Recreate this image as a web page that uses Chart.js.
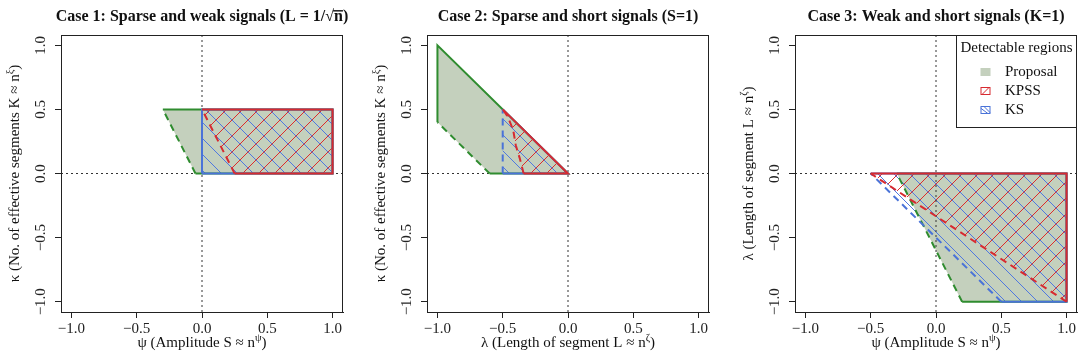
<!DOCTYPE html>
<html><head><meta charset="utf-8">
<script src="https://cdn.jsdelivr.net/npm/chart.js@4.4.1/dist/chart.umd.min.js"></script>
<style>
html,body{margin:0;padding:0;background:#fff;}
#wrap{position:relative;width:1083px;height:361px;overflow:hidden;}
canvas{position:absolute;left:0;top:0;}
</style></head><body>
<div id="wrap">
<canvas id="c1" width="1083" height="361"></canvas>
<canvas id="c2" width="1083" height="361"></canvas>
<canvas id="c3" width="1083" height="361"></canvas>
</div>
<script>
// ---------- data ----------
const axisTicks = [-1, -0.5, 0, 0.5, 1];
const tickLabels = ['\u22121.0', '\u22120.5', '0.0', '0.5', '1.0'];
const axisRange = [-1.08, 1.08];
const legendTitle = 'Detectable regions';
const legendLabels = ['Proposal', 'KPSS', 'KS'];

// Case 1 (x = psi, y = kappa)
const c1ProposalRegion = [[-0.3, 0.5], [1, 0.5], [1, 0], [-0.05, 0]];
const c1ProposalIncluded = [[[-0.3, 0.5], [1, 0.5], [1, 0], [-0.05, 0]]];
const c1ProposalExcluded = [[[-0.05, 0], [-0.3, 0.5]]];
const c1KSRegion = [[0, 0], [0, 0.5], [1, 0.5], [1, 0]];
const c1KSIncluded = [[[0, 0], [0, 0.5], [1, 0.5], [1, 0], [0, 0]]];
const c1KSExcluded = [];
const c1KPSSRegion = [[0, 0.5], [1, 0.5], [1, 0], [0.25, 0]];
const c1KPSSIncluded = [[[0, 0.5], [1, 0.5], [1, 0], [0.25, 0]]];
const c1KPSSExcluded = [[[0.25, 0], [0.12, 0.26], [0, 0.5]]];

// Case 2 (x = lambda, y = kappa)
const c2ProposalRegion = [[-1, 1], [0, 0], [-0.6, 0], [-1, 0.4]];
const c2ProposalIncluded = [[[-1, 0.4], [-1, 1], [0, 0], [-0.6, 0]]];
const c2ProposalExcluded = [[[-0.6, 0], [-1, 0.4]]];
const c2KSRegion = [[-0.5, 0.5], [0, 0], [-0.5, 0]];
const c2KSIncluded = [[[-0.5, 0.5], [0, 0], [-0.5, 0]]];
const c2KSExcluded = [[[-0.5, 0], [-0.5, 0.5]]];
const c2KPSSCurve = [[-0.34, 0], [-0.35, 0.04], [-0.37, 0.12], [-0.40, 0.22], [-0.42, 0.34], [-0.46, 0.44], [-0.5, 0.5]];
const c2KPSSRegion = [[-0.5, 0.5], [0, 0]].concat(c2KPSSCurve);
const c2KPSSIncluded = [[[-0.5, 0.5], [0, 0], [-0.34, 0]]];
const c2KPSSExcluded = [c2KPSSCurve];

// Case 3 (x = psi, y = lambda)
const c3ProposalRegion = [[-0.3, 0], [1, 0], [1, -1], [0.2, -1]];
const c3ProposalIncluded = [[[-0.3, 0], [1, 0], [1, -1], [0.2, -1]]];
const c3ProposalExcluded = [[[0.2, -1], [-0.3, 0]]];
const c3KSRegion = [[-0.5, 0], [1, 0], [1, -1], [0.5, -1]];
const c3KSIncluded = [[[-0.5, 0], [1, 0], [1, -1], [0.5, -1]]];
const c3KSExcluded = [[[0.5, -1], [-0.5, 0]]];
const c3KPSSRegion = [[-0.5, 0], [1, 0], [1, -1]];
const c3KPSSIncluded = [[[-0.5, 0], [1, 0], [1, -1]]];
const c3KPSSExcluded = [[[1, -1], [-0.5, 0]]];

// ---------- styling ----------
const FONT = "'Liberation Serif','Times New Roman',serif";
const COL = {
  green: '#2f8c2f', red: '#d72a30', blue: '#4a73d8',
  fill: 'rgb(196,208,189)', hatchRed: '#dc2c2c', hatchBlue: '#4f78e0',
  axis: '#222', text: '#111'
};

function makeHatch(color, dir, size) {
  const c = document.createElement('canvas');
  c.width = size; c.height = size;
  const g = c.getContext('2d');
  g.strokeStyle = color; g.lineWidth = 1;
  g.beginPath();
  if (dir > 0) {
    g.moveTo(-1, size + 1); g.lineTo(size + 1, -1);
    g.moveTo(-1, 1); g.lineTo(1, -1);
    g.moveTo(size - 1, size + 1); g.lineTo(size + 1, size - 1);
  } else {
    g.moveTo(-1, -1); g.lineTo(size + 1, size + 1);
    g.moveTo(size - 1, -1); g.lineTo(size + 1, 1);
    g.moveTo(-1, size - 1); g.lineTo(1, size + 1);
  }
  g.stroke();
  return g.createPattern(c, 'repeat');
}
const redHatch = makeHatch(COL.hatchRed, 1, 16);
const blueHatch = makeHatch(COL.hatchBlue, -1, 16);

function pts(arr) { return arr.map(([x, y]) => ({x, y})); }
function regionDs(arr, fillStyle, order) {
  return {data: pts(arr), regionFill: fillStyle, showLine: false, pointRadius: 0, pointHoverRadius: 0, order};
}
function lineDs(arr, color, dashed, order, width) {
  return {data: pts(arr), showLine: true, borderColor: color, borderWidth: width || 2,
    borderDash: dashed ? [7, 5] : [], pointRadius: 0, pointHoverRadius: 0, fill: false, tension: 0, order};
}
function edges(list, color, dashed, order) { return list.map(a => lineDs(a, color, dashed, order)); }

function buildDatasets(P, K, S) {
  const ds = [];
  ds.push(regionDs(P.region, COL.fill, 100));
  ds.push(regionDs(S.region, blueHatch, 99));
  ds.push(regionDs(K.region, redHatch, 98));
  const zl = {showLine: true, borderColor: '#333', borderWidth: 1, borderDash: [2, 3], pointRadius: 0, fill: false, order: 50};
  ds.push(Object.assign({data: [{x: 0, y: axisRange[0]}, {x: 0, y: axisRange[1]}]}, zl));
  ds.push(Object.assign({data: [{x: axisRange[0], y: 0}, {x: axisRange[1], y: 0}]}, zl));
  ds.push(...edges(P.inc, COL.green, false, 30), ...edges(P.exc, COL.green, true, 30));
  ds.push(...edges(S.inc, COL.blue, false, 20), ...edges(S.exc, COL.blue, true, 20));
  ds.push(...edges(K.inc, COL.red, false, 10), ...edges(K.exc, COL.red, true, 10));
  return ds;
}

const regionFillPlugin = {
  id: 'regionFill',
  beforeDatasetDraw(chart, args) {
    const ds = chart.data.datasets[args.index];
    if (!ds.regionFill) return;
    const ctx = chart.ctx, a = chart.chartArea;
    ctx.save();
    ctx.beginPath(); ctx.rect(a.left, a.top, a.right - a.left, a.bottom - a.top); ctx.clip();
    ctx.beginPath();
    args.meta.data.forEach((p, i) => i ? ctx.lineTo(p.x, p.y) : ctx.moveTo(p.x, p.y));
    ctx.closePath();
    ctx.fillStyle = ds.regionFill;
    ctx.fill();
    ctx.restore();
  }
};

function drawRich(ctx, runs, cx, cy, rot, size, bold) {
  ctx.save();
  ctx.translate(cx, cy); ctx.rotate(rot);
  const f = s => (bold ? 'bold ' : '') + s + 'px ' + FONT;
  let w = 0;
  const widths = runs.map(r => { ctx.font = f(r.sup ? size * 0.7 : size); const m = ctx.measureText(r.t).width; w += m; return m; });
  let x = -w / 2;
  ctx.textBaseline = 'middle'; ctx.textAlign = 'left'; ctx.fillStyle = COL.text;
  runs.forEach((r, i) => {
    ctx.font = f(r.sup ? size * 0.7 : size);
    ctx.fillText(r.t, x, r.sup ? -size * 0.33 : 0);
    if (r.over) ctx.fillRect(x - 1, -size * 0.43, widths[i] + 1, bold ? 1.4 : 1);
    x += widths[i];
  });
  ctx.restore();
}

function textPlugin(title, xTitle, yTitle) {
  return {
    id: 'texts',
    afterDraw(chart) {
      const ctx = chart.ctx, a = chart.chartArea;
      ctx.save();
      ctx.strokeStyle = COL.axis; ctx.lineWidth = 1;
      ctx.strokeRect(Math.round(a.left) + 0.5, Math.round(a.top) + 0.5, Math.round(a.right - a.left) - 1, Math.round(a.bottom - a.top));
      ctx.restore();
      const cx = (a.left + a.right) / 2, cy = (a.top + a.bottom) / 2;
      drawRich(ctx, title, cx, 17, 0, 16, true);
      drawRich(ctx, xTitle, cx, 343, 0, 15, false);
      drawRich(ctx, yTitle, a.left - 46, cy, -Math.PI / 2, 15, false);
    }
  };
}

const legendPlugin = {
  id: 'regionLegend',
  afterDraw(chart) {
    const ctx = chart.ctx, a = chart.chartArea;
    const w = 121, h = 92;
    const L = a.right - w, T = a.top;
    ctx.save();
    ctx.fillStyle = '#fff'; ctx.fillRect(L, T, w, h);
    ctx.strokeStyle = '#222'; ctx.lineWidth = 1;
    ctx.strokeRect(Math.round(L) + 0.5, Math.round(T) + 0.5, w - 1, h);
    ctx.fillStyle = COL.text; ctx.textBaseline = 'middle';
    ctx.font = '15px ' + FONT; ctx.textAlign = 'center';
    ctx.fillText(legendTitle, L + w / 2, T + 13);
    ctx.textAlign = 'left';
    const rows = [T + 37, T + 56, T + 75];
    const sw = 10, sh = 8, sx = L + 24.5;
    legendLabels.forEach((lab, i) => {
      const y = rows[i];
      ctx.font = '15px ' + FONT; ctx.fillStyle = COL.text;
      ctx.fillText(lab, L + 49, y);
      if (i === 0) {
        ctx.fillStyle = COL.fill; ctx.fillRect(sx, y - sh / 2, sw, sh);
      } else {
        const col = i === 1 ? COL.red : COL.blue;
        ctx.save();
        ctx.beginPath(); ctx.rect(sx, y - sh / 2, sw, sh); ctx.clip();
        ctx.strokeStyle = col; ctx.lineWidth = 1; ctx.beginPath();
        if (i === 1) { ctx.moveTo(sx + 1, y + sh / 2); ctx.lineTo(sx + sw - 1, y - sh / 2); }
        else { ctx.moveTo(sx, y - sh / 2 + 2); ctx.lineTo(sx + sw - 2, y + sh / 2); ctx.moveTo(sx + 3, y - sh / 2); ctx.lineTo(sx + sw, y + sh / 2 - 1); }
        ctx.stroke(); ctx.restore();
        ctx.strokeStyle = col; ctx.strokeRect(sx + 0.5, y - sh / 2 + 0.5, sw - 1, sh - 1);
      }
    });
    ctx.restore();
  }
};

function scaleOpts(isY) {
  const o = {
    type: 'linear', min: axisRange[0], max: axisRange[1],
    position: isY ? 'left' : 'bottom',
    afterBuildTicks: s => { s.ticks = axisTicks.map(v => ({value: v})); },
    afterFit: s => { if (isY) s.width = 30; else s.height = 30; },
    ticks: {
      autoSkip: false, color: '#222', font: {family: FONT, size: 15},
      callback: v => tickLabels[axisTicks.indexOf(v)],
      padding: isY ? 0 : 2, maxRotation: isY ? 90 : 0, minRotation: isY ? 90 : 0
    },
    grid: {display: true, drawOnChartArea: false, drawTicks: true, tickLength: 6, tickColor: COL.axis, tickWidth: 1},
    border: {display: true, color: COL.axis, width: 1},
    title: {display: false}
  };
  if (isY) o.ticks.crossAlign = 'center';
  return o;
}

function makeChart(id, box, datasets, plugins) {
  return new Chart(document.getElementById(id), {
    type: 'scatter',
    data: {datasets},
    options: {
      responsive: false, animation: false, devicePixelRatio: 1,
      layout: {padding: {left: box[0] - 30, right: 1083 - box[1], top: 35, bottom: 19}},
      plugins: {legend: {display: false}, tooltip: {enabled: false}, title: {display: false}},
      events: [],
      scales: {x: scaleOpts(false), y: scaleOpts(true)}
    },
    plugins: [regionFillPlugin].concat(plugins)
  });
}

const psiX = [{t: '\u03C8 (Amplitude S \u2248 n'}, {t: '\u03C8', sup: true}, {t: ')'}];
const kappaY = [{t: '\u03BA (No. of effective segments K \u2248 n'}, {t: '\u03BE', sup: true}, {t: ')'}];
const lambdaT = [{t: '\u03BB (Length of segment L \u2248 n'}, {t: '\u03B6', sup: true}, {t: ')'}];

makeChart('c1', [61, 343], buildDatasets(
  {region: c1ProposalRegion, inc: c1ProposalIncluded, exc: c1ProposalExcluded},
  {region: c1KPSSRegion, inc: c1KPSSIncluded, exc: c1KPSSExcluded},
  {region: c1KSRegion, inc: c1KSIncluded, exc: c1KSExcluded}),
  [textPlugin([{t: 'Case 1: Sparse and weak signals (L = 1/\u221A'}, {t: 'n', over: true}, {t: ')'}], psiX, kappaY)]);

makeChart('c2', [427, 709], buildDatasets(
  {region: c2ProposalRegion, inc: c2ProposalIncluded, exc: c2ProposalExcluded},
  {region: c2KPSSRegion, inc: c2KPSSIncluded, exc: c2KPSSExcluded},
  {region: c2KSRegion, inc: c2KSIncluded, exc: c2KSExcluded}),
  [textPlugin([{t: 'Case 2: Sparse and short signals (S=1)'}], lambdaT, kappaY)]);

makeChart('c3', [795, 1077], buildDatasets(
  {region: c3ProposalRegion, inc: c3ProposalIncluded, exc: c3ProposalExcluded},
  {region: c3KPSSRegion, inc: c3KPSSIncluded, exc: c3KPSSExcluded},
  {region: c3KSRegion, inc: c3KSIncluded, exc: c3KSExcluded}),
  [textPlugin([{t: 'Case 3: Weak and short signals (K=1)'}], psiX, lambdaT), legendPlugin]);
</script>
</body></html>
